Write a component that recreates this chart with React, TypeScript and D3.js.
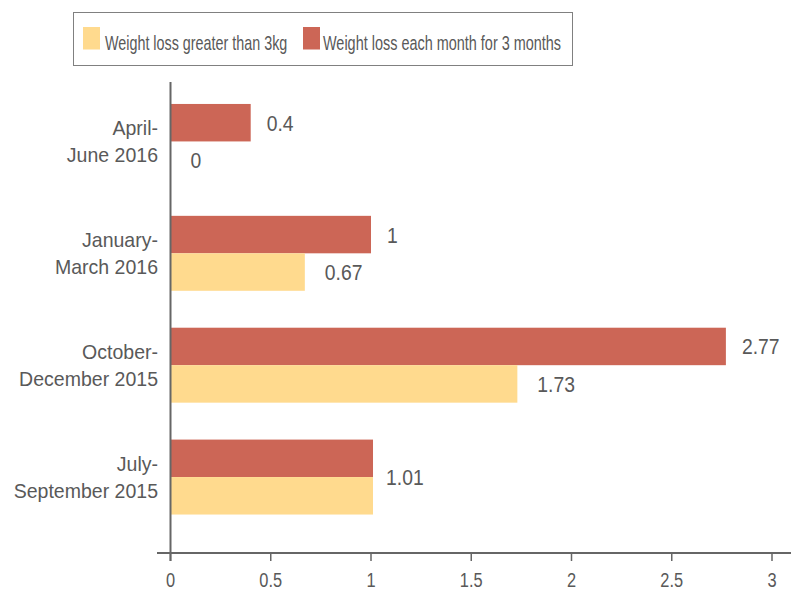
import React from "react";
import * as d3 from "d3";

const categories = [
  ["April-", "June 2016"],
  ["January-", "March 2016"],
  ["October-", "December 2015"],
  ["July-", "September 2015"],
];
const seriesNames = ["Weight loss each month for 3 months", "Weight loss greater than 3kg"];
const eachMonthValues = [0.4, 1, 2.77, 1.01];
const greaterThan3kgValues = [0, 0.67, 1.73, 1.01];
const xTicks = [0, 0.5, 1, 1.5, 2, 2.5, 3];

const RED = "#CC6656";
const YELLOW = "#FFDA8E";
const TEXT = "#595959";
const AXIS = "#666666";
const FONT = "'Liberation Sans', Arial, sans-serif";

function CText(props: {
  x: number;
  y: number;
  sx: number;
  size: number;
  anchor?: string;
  children: React.ReactNode;
}) {
  const { x, y, sx, size, anchor = "start", children } = props;
  return (
    <text
      transform={`translate(${x},${y}) scale(${sx},1)`}
      textAnchor={anchor}
      fontSize={size}
      fill={TEXT}
    >
      {children}
    </text>
  );
}

export default function App() {
  const W = 791, H = 590;
  const x = d3.scaleLinear().domain([0, 3]).range([170.5, 772]);
  const y = d3
    .scaleBand<number>()
    .domain(d3.range(categories.length))
    .range([85.5, 533])
    .paddingInner(0.33)
    .paddingOuter(0.165);
  const bw = y.bandwidth();
  const barH = bw / 2;
  const seriesVals = [eachMonthValues, greaterThan3kgValues];
  const colors = [RED, YELLOW];
  const axisY = 553;
  const gap = 16;
  const fmt = d3.format("");

  return (
    <svg width={W} height={H} style={{ position: "absolute", left: 0, top: 0, background: "#fff" }} fontFamily={FONT}>
      {/* legend */}
      <rect x={73.5} y={12.5} width={499} height={53} fill="#fff" stroke="#808080" strokeWidth={1} />
      <rect x={83} y={27} width={17} height={22.5} fill={YELLOW} />
      <CText x={105} y={49.5} sx={0.7} size={20.5}>{seriesNames[1]}</CText>
      <rect x={303} y={27} width={17} height={22.5} fill={RED} />
      <CText x={323} y={49.5} sx={0.705} size={20.5}>{seriesNames[0]}</CText>

      {/* bars */}
      {categories.map((c, i) =>
        seriesVals.map((vals, s) => (
          <rect
            key={`b${i}-${s}`}
            x={x(0)}
            y={(y(i) as number) + s * barH}
            width={Math.max(0, x(vals[i]) - x(0))}
            height={barH}
            fill={colors[s]}
          />
        ))
      )}

      {/* value labels */}
      {categories.map((c, i) => {
        const a = eachMonthValues[i];
        const b = greaterThan3kgValues[i];
        const top = y(i) as number;
        if (a === b) {
          return (
            <CText key={`v${i}`} x={x(a) + gap - 3} y={top + bw / 2 + 8} sx={0.86} size={22.5}>
              {fmt(a)}
            </CText>
          );
        }
        return seriesVals.map((vals, s) => (
          <CText
            key={`v${i}-${s}`}
            x={x(vals[i]) + gap + (s === 1 ? 4 : 0)}
            y={top + s * barH + barH / 2 + 8}
            sx={0.86}
            size={22.5}
          >
            {fmt(vals[i])}
          </CText>
        ));
      })}

      {/* category labels */}
      {categories.map((c, i) => {
        const mid = (y(i) as number) + bw / 2;
        return (
          <g key={`c${i}`}>
            <CText x={158} y={mid - 6} sx={0.93} size={21} anchor="end">{c[0]}</CText>
            <CText x={158} y={mid + 21} sx={0.93} size={21} anchor="end">{c[1]}</CText>
          </g>
        );
      })}

      {/* axes */}
      <line x1={x(0)} x2={x(0)} y1={82} y2={axisY + 8} stroke={AXIS} strokeWidth={2} />
      <line x1={157} x2={791} y1={axisY} y2={axisY} stroke={AXIS} strokeWidth={2} />
      {xTicks.map((t) => (
        <g key={`t${t}`}>
          <line x1={x(t)} x2={x(t)} y1={axisY} y2={axisY + 8} stroke={AXIS} strokeWidth={1.5} />
          <CText x={x(t)} y={587} sx={0.8} size={20.5} anchor="middle">
            {fmt(t)}
          </CText>
        </g>
      ))}
    </svg>
  );
}
